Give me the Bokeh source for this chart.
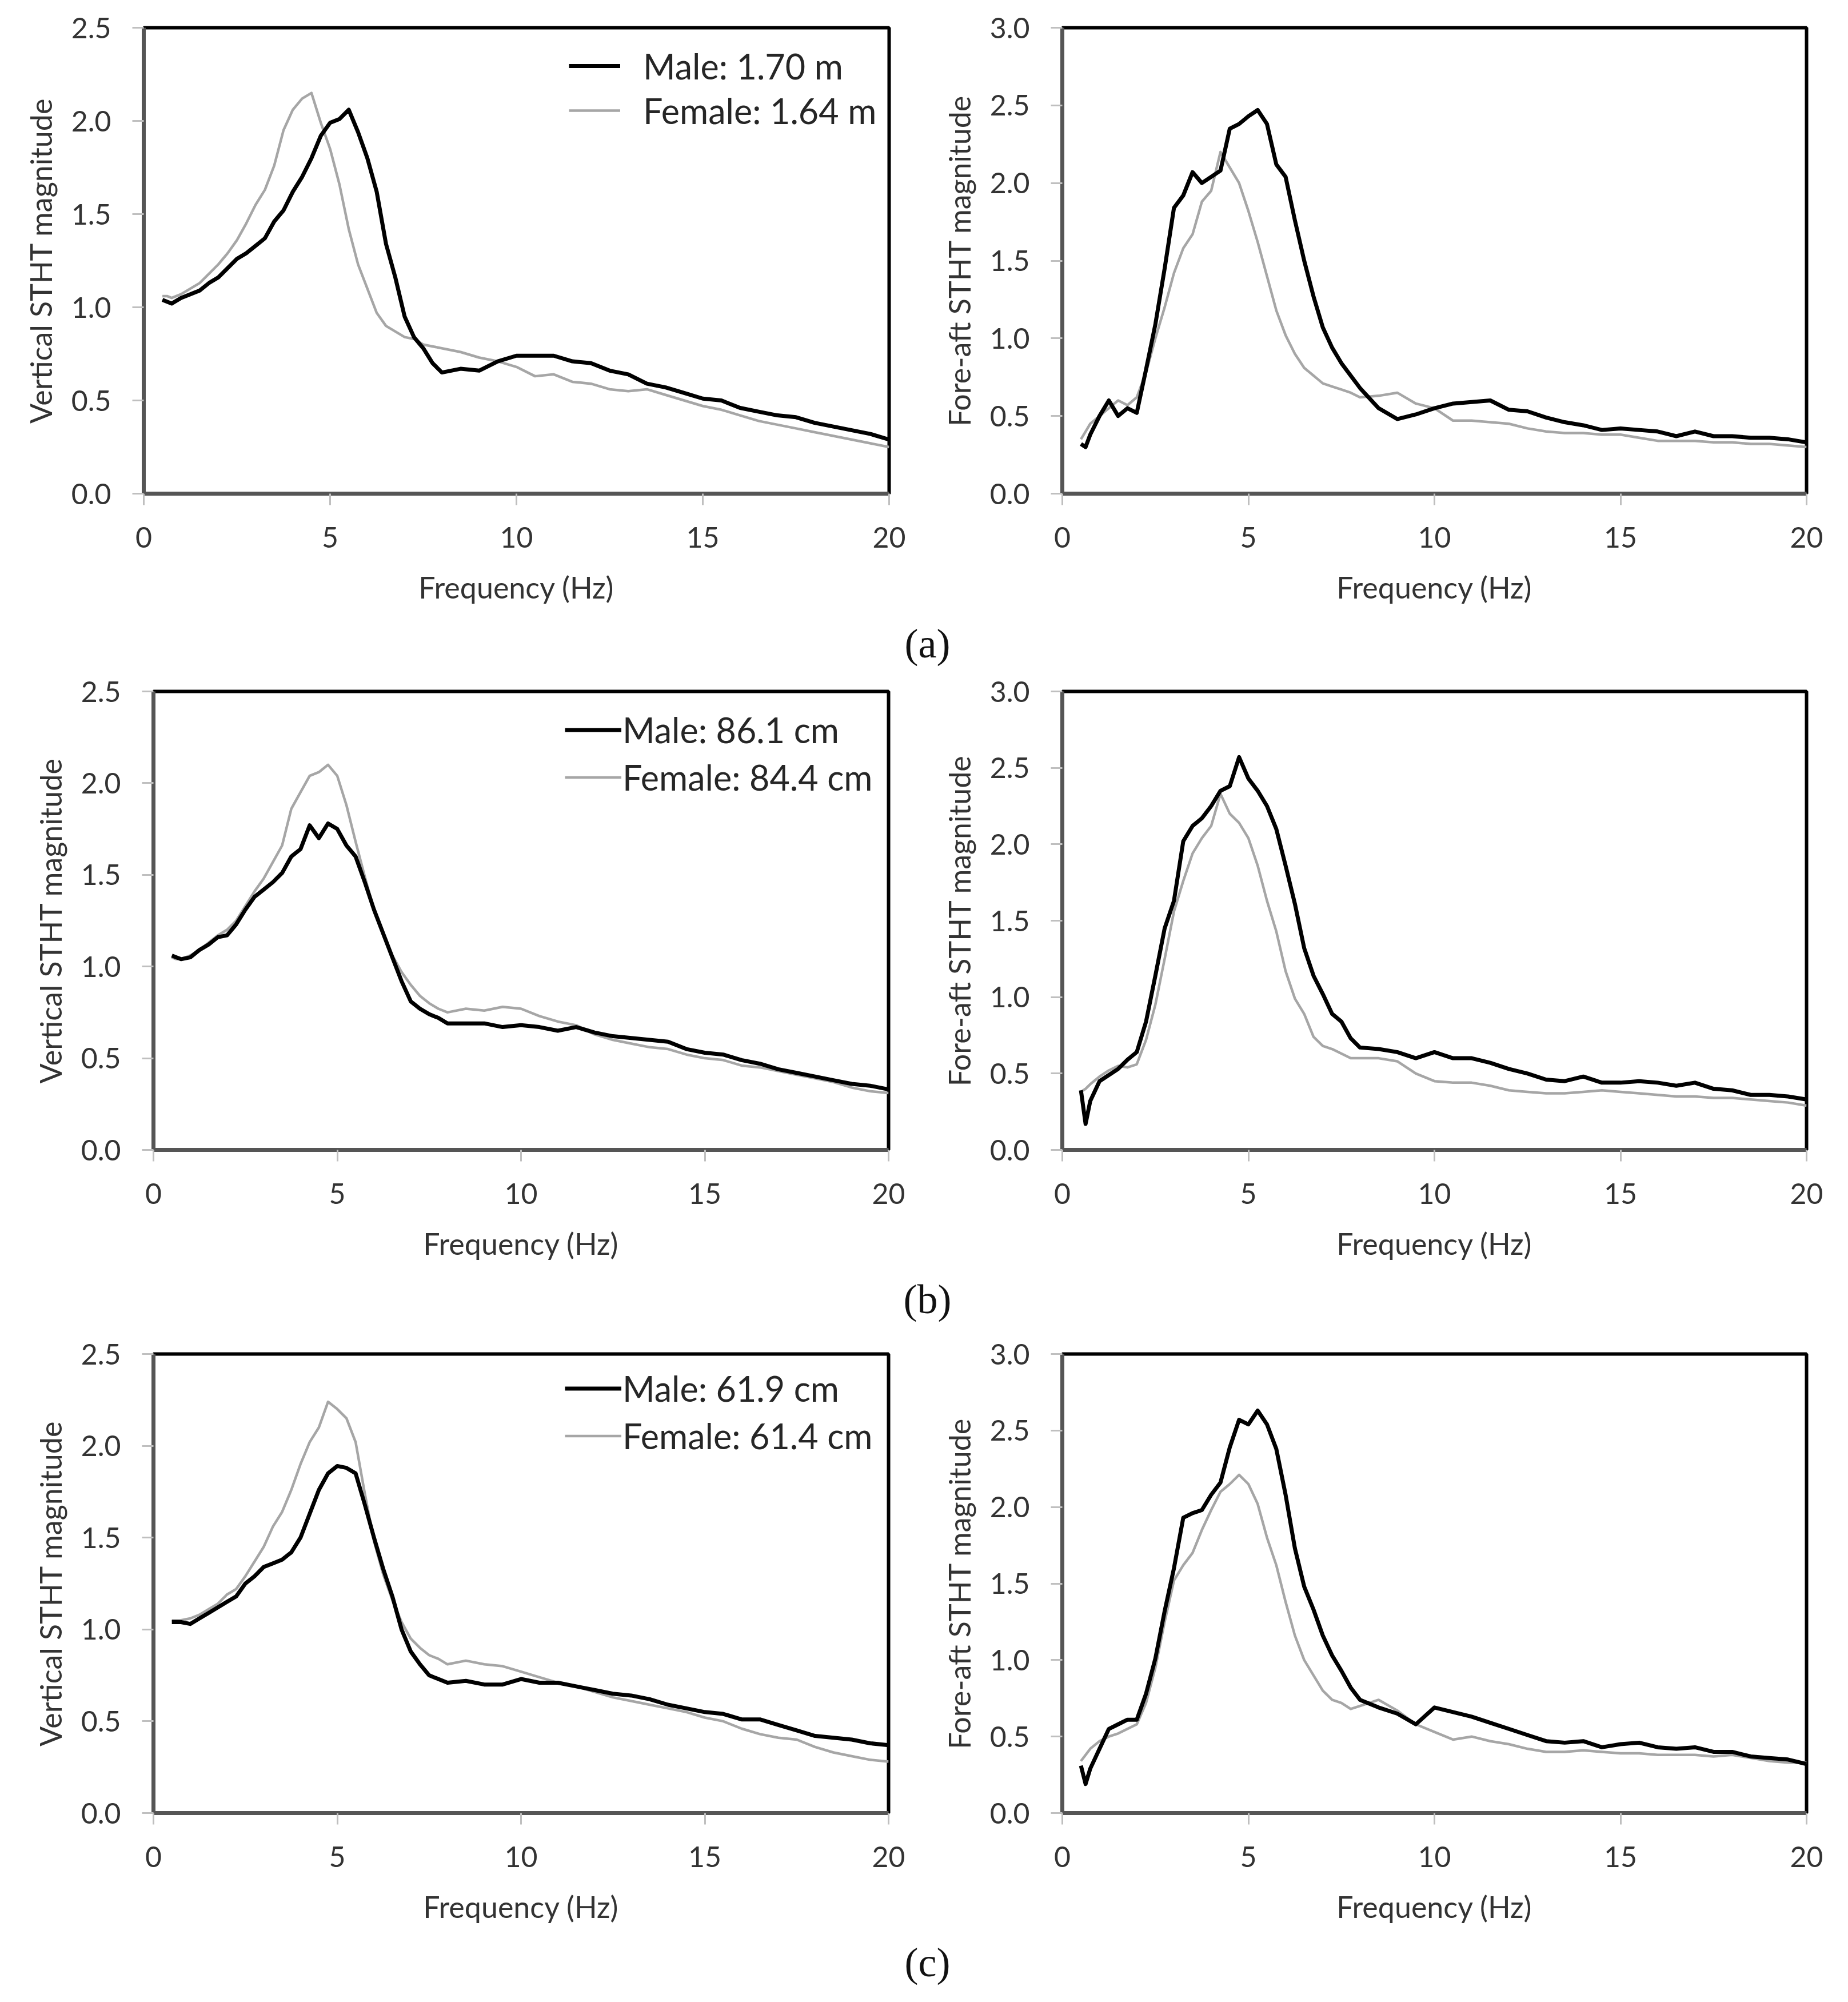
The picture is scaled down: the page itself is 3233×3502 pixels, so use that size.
from bokeh.plotting import figure
from bokeh.layouts import column, row
from bokeh.models import Range1d, FixedTicker, NumeralTickFormatter, Legend, LegendItem, Label
from bokeh.embed import file_html
from bokeh.resources import INLINE

# frequency grid (Hz) shared by every curve
freq = [0.5, 0.625, 0.75,
        1.0, 1.25, 1.5, 1.75, 2.0, 2.25, 2.5, 2.75, 3.0, 3.25, 3.5, 3.75, 4.0, 4.25, 4.5, 4.75,
        5.0, 5.25, 5.5, 5.75, 6.0, 6.25, 6.5, 6.75, 7.0, 7.25, 7.5, 7.75, 8.0,
        8.5, 9.0, 9.5, 10.0, 10.5, 11.0, 11.5, 12.0, 12.5, 13.0, 13.5, 14.0, 14.5, 15.0,
        15.5, 16.0, 16.5, 17.0, 17.5, 18.0, 18.5, 19.0, 19.5, 20.0]

# (a) stature
a_vert_male = [1.04, 1.03, 1.02,
               1.05, 1.07, 1.09, 1.13, 1.16, 1.21, 1.26, 1.29, 1.33, 1.37, 1.46, 1.52, 1.62, 1.70, 1.80, 1.92,
               1.99, 2.01, 2.06, 1.94, 1.80, 1.62, 1.34, 1.16, 0.95, 0.84, 0.78, 0.70, 0.65,
               0.67, 0.66, 0.71, 0.74, 0.74, 0.74, 0.71, 0.70, 0.66, 0.64, 0.59, 0.57, 0.54, 0.51,
               0.50, 0.46, 0.44, 0.42, 0.41, 0.38, 0.36, 0.34, 0.32, 0.29]
a_vert_female = [1.06, 1.06, 1.05,
                 1.07, 1.10, 1.13, 1.18, 1.23, 1.29, 1.36, 1.45, 1.55, 1.63, 1.76, 1.95, 2.06, 2.12, 2.15, 1.99,
                 1.85, 1.66, 1.42, 1.23, 1.10, 0.97, 0.90, 0.87, 0.84, 0.83, 0.80, 0.79, 0.78,
                 0.76, 0.73, 0.71, 0.68, 0.63, 0.64, 0.60, 0.59, 0.56, 0.55, 0.56, 0.53, 0.50, 0.47,
                 0.45, 0.42, 0.39, 0.37, 0.35, 0.33, 0.31, 0.29, 0.27, 0.25]
a_fa_male = [0.32, 0.30, 0.38,
             0.50, 0.60, 0.50, 0.55, 0.52, 0.80, 1.09, 1.45, 1.84, 1.92, 2.07, 2.00, 2.04, 2.08, 2.35, 2.38,
             2.43, 2.47, 2.38, 2.12, 2.04, 1.76, 1.50, 1.27, 1.07, 0.94, 0.84, 0.76, 0.68,
             0.55, 0.48, 0.51, 0.55, 0.58, 0.59, 0.60, 0.54, 0.53, 0.49, 0.46, 0.44, 0.41, 0.42,
             0.41, 0.40, 0.37, 0.40, 0.37, 0.37, 0.36, 0.36, 0.35, 0.33]
a_fa_female = [0.35, 0.40, 0.45,
               0.50, 0.55, 0.60, 0.57, 0.62, 0.78, 1.00, 1.20, 1.42, 1.58, 1.67, 1.88, 1.95, 2.20, 2.10, 2.00,
               1.82, 1.62, 1.40, 1.18, 1.02, 0.90, 0.81, 0.76, 0.71, 0.69, 0.67, 0.65, 0.62,
               0.63, 0.65, 0.58, 0.55, 0.47, 0.47, 0.46, 0.45, 0.42, 0.40, 0.39, 0.39, 0.38, 0.38,
               0.36, 0.34, 0.34, 0.34, 0.33, 0.33, 0.32, 0.32, 0.31, 0.30]

# (b) sitting height
b_vert_male = [1.06, 1.05, 1.04,
               1.05, 1.09, 1.12, 1.16, 1.17, 1.23, 1.31, 1.38, 1.42, 1.46, 1.51, 1.60, 1.64, 1.77, 1.70, 1.78,
               1.75, 1.66, 1.60, 1.46, 1.31, 1.18, 1.05, 0.92, 0.81, 0.77, 0.74, 0.72, 0.69,
               0.69, 0.69, 0.67, 0.68, 0.67, 0.65, 0.67, 0.64, 0.62, 0.61, 0.60, 0.59, 0.55, 0.53,
               0.52, 0.49, 0.47, 0.44, 0.42, 0.40, 0.38, 0.36, 0.35, 0.33]
b_vert_female = [1.05, 1.04, 1.04,
                 1.06, 1.09, 1.13, 1.17, 1.20, 1.25, 1.33, 1.41, 1.48, 1.57, 1.66, 1.86, 1.95, 2.04, 2.06, 2.10,
                 2.04, 1.88, 1.68, 1.49, 1.31, 1.18, 1.06, 0.97, 0.90, 0.84, 0.80, 0.77, 0.75,
                 0.77, 0.76, 0.78, 0.77, 0.73, 0.70, 0.68, 0.63, 0.60, 0.58, 0.56, 0.55, 0.52, 0.50,
                 0.49, 0.46, 0.45, 0.43, 0.41, 0.39, 0.37, 0.34, 0.32, 0.31]
b_fa_male = [0.39, 0.17, 0.32,
             0.45, 0.49, 0.53, 0.59, 0.64, 0.84, 1.14, 1.45, 1.63, 2.02, 2.12, 2.17, 2.25, 2.35, 2.38, 2.57,
             2.43, 2.35, 2.25, 2.10, 1.86, 1.61, 1.32, 1.14, 1.02, 0.89, 0.84, 0.73, 0.67,
             0.66, 0.64, 0.60, 0.64, 0.60, 0.60, 0.57, 0.53, 0.50, 0.46, 0.45, 0.48, 0.44, 0.44,
             0.45, 0.44, 0.42, 0.44, 0.40, 0.39, 0.36, 0.36, 0.35, 0.33]
b_fa_female = [0.38, 0.40, 0.43,
               0.48, 0.52, 0.55, 0.54, 0.56, 0.72, 0.95, 1.25, 1.56, 1.76, 1.94, 2.04, 2.12, 2.33, 2.20, 2.14,
               2.04, 1.86, 1.63, 1.43, 1.17, 0.99, 0.89, 0.74, 0.68, 0.66, 0.63, 0.60, 0.60,
               0.60, 0.58, 0.50, 0.45, 0.44, 0.44, 0.42, 0.39, 0.38, 0.37, 0.37, 0.38, 0.39, 0.38,
               0.37, 0.36, 0.35, 0.35, 0.34, 0.34, 0.33, 0.32, 0.31, 0.29]

# (c) sitting eye height
c_vert_male = [1.04, 1.04, 1.04,
               1.03, 1.06, 1.09, 1.12, 1.15, 1.18, 1.25, 1.29, 1.34, 1.36, 1.38, 1.42, 1.50, 1.63, 1.76, 1.85,
               1.89, 1.88, 1.85, 1.68, 1.50, 1.33, 1.18, 1.00, 0.88, 0.81, 0.75, 0.73, 0.71,
               0.72, 0.70, 0.70, 0.73, 0.71, 0.71, 0.69, 0.67, 0.65, 0.64, 0.62, 0.59, 0.57, 0.55,
               0.54, 0.51, 0.51, 0.48, 0.45, 0.42, 0.41, 0.40, 0.38, 0.37]
c_vert_female = [1.05, 1.05, 1.05,
                 1.06, 1.08, 1.11, 1.14, 1.19, 1.22, 1.29, 1.37, 1.45, 1.56, 1.64, 1.76, 1.90, 2.02, 2.10, 2.24,
                 2.20, 2.15, 2.02, 1.74, 1.48, 1.30, 1.16, 1.04, 0.95, 0.90, 0.86, 0.84, 0.81,
                 0.83, 0.81, 0.80, 0.77, 0.74, 0.71, 0.69, 0.66, 0.63, 0.61, 0.59, 0.57, 0.55, 0.52,
                 0.50, 0.46, 0.43, 0.41, 0.40, 0.36, 0.33, 0.31, 0.29, 0.28]
c_fa_male = [0.31, 0.19, 0.29,
             0.42, 0.55, 0.58, 0.61, 0.61, 0.78, 1.01, 1.32, 1.60, 1.93, 1.96, 1.98, 2.08, 2.16, 2.39, 2.57,
             2.54, 2.63, 2.54, 2.38, 2.08, 1.73, 1.48, 1.33, 1.16, 1.03, 0.93, 0.82, 0.74,
             0.69, 0.65, 0.58, 0.69, 0.66, 0.63, 0.59, 0.55, 0.51, 0.47, 0.46, 0.47, 0.43, 0.45,
             0.46, 0.43, 0.42, 0.43, 0.40, 0.40, 0.37, 0.36, 0.35, 0.32]
c_fa_female = [0.34, 0.38, 0.42,
               0.47, 0.50, 0.52, 0.55, 0.58, 0.72, 0.95, 1.25, 1.52, 1.62, 1.70, 1.85, 1.98, 2.10, 2.15, 2.21,
               2.15, 2.02, 1.80, 1.62, 1.38, 1.16, 1.00, 0.90, 0.80, 0.74, 0.72, 0.68, 0.70,
               0.74, 0.67, 0.58, 0.53, 0.48, 0.50, 0.47, 0.45, 0.42, 0.40, 0.40, 0.41, 0.40, 0.39,
               0.39, 0.38, 0.38, 0.38, 0.37, 0.38, 0.36, 0.34, 0.33, 0.33]

x_ticks = [0, 5, 10, 15, 20]
vert_ticks = [0.0, 0.5, 1.0, 1.5, 2.0, 2.5]
fa_ticks = [0.0, 0.5, 1.0, 1.5, 2.0, 2.5, 3.0]

legend_a = ["Male: 1.70 m", "Female: 1.64 m"]
legend_b = ["Male: 86.1 cm", "Female: 84.4 cm"]
legend_c = ["Male: 61.9 cm", "Female: 61.4 cm"]
captions = ["(a)", "(b)", "(c)"]

FONT = "Lato"
TXT = "#333333"
BLACK = "#000000"
GREY = "#a6a6a6"


def panel(male, female, yticks, ylabel, box, leg=None):
    # box = (left border, frame width, right border, top border, frame height, bottom border)
    left, fw, right, top, fh, bottom = box
    p = figure(width=left + fw + right, height=top + fh + bottom,
               x_range=Range1d(0, 20), y_range=Range1d(0, yticks[-1]),
               toolbar_location=None, output_backend="svg",
               min_border_left=left, min_border_right=right,
               min_border_top=top, min_border_bottom=bottom)
    p.grid.visible = False
    p.outline_line_color = "black"
    p.outline_line_width = 6

    p.xaxis.ticker = FixedTicker(ticks=x_ticks)
    p.yaxis.ticker = FixedTicker(ticks=yticks)
    p.yaxis.formatter = NumeralTickFormatter(format="0.0")
    p.xaxis.axis_label = "Frequency (Hz)"
    p.yaxis.axis_label = ylabel
    for ax in (p.xaxis, p.yaxis):
        ax.axis_line_color = "#555555"
        ax.axis_line_width = 7
        ax.major_tick_line_color = "#bfbfbf"
        ax.major_tick_line_width = 3
        ax.major_tick_out = 20
        ax.major_tick_in = 0
        ax.minor_tick_line_color = None
        ax.major_label_text_font = FONT
        ax.major_label_text_font_size = "50px"
        ax.major_label_text_color = TXT
        ax.axis_label_text_font = FONT
        ax.axis_label_text_font_size = "52px"
        ax.axis_label_text_font_style = "normal"
        ax.axis_label_text_color = TXT
    p.xaxis.major_label_standoff = 38
    p.xaxis.axis_label_standoff = 35
    p.yaxis.major_label_standoff = 37
    p.yaxis.axis_label_standoff = 20

    rf = p.line(freq, female, line_color=GREY, line_width=4.5, line_join="round")
    rm = p.line(freq, male, line_color=BLACK, line_width=7, line_join="round")

    if leg:
        labels, gx, gw, standoff, first, step = leg
        lg = Legend(items=[LegendItem(label=labels[0], renderers=[rm]),
                           LegendItem(label=labels[1], renderers=[rf])],
                    location=(gx, fh - (first - step / 2) - 2 * step),
                    border_line_color=None, background_fill_alpha=0,
                    padding=0, margin=0, spacing=0,
                    glyph_width=gw, glyph_height=step, label_height=step,
                    label_standoff=standoff,
                    label_text_font=FONT, label_text_font_size="61px",
                    label_text_color="#262626")
        p.add_layout(lg)
    return p


def caption(text):
    c = figure(width=3216, height=90, x_range=Range1d(0, 3216), y_range=Range1d(0, 90),
               toolbar_location=None, output_backend="svg",
               x_axis_type=None, y_axis_type=None, min_border=0)
    c.grid.visible = False
    c.outline_line_color = None
    c.add_layout(Label(x=1622, y=45, text=text, text_align="center",
                       text_baseline="middle", text_font="Liberation Serif",
                       text_font_size="72px", text_color="#111111"))
    return c


pa1 = panel(a_vert_male, a_vert_female, vert_ticks, "Vertical STHT magnitude",
            (251, 1304, 53, 45, 818, 217), (legend_a, 744, 90, 40, 70, 78))
pa2 = panel(a_fa_male, a_fa_female, fa_ticks, "Fore-aft STHT magnitude",
            (250, 1302, 48, 48, 815, 217))
pb1 = panel(b_vert_male, b_vert_female, vert_ticks, "Vertical STHT magnitude",
            (268, 1286, 54, 39, 802, 216), (legend_b, 720, 99, 2, 67, 83))
pb2 = panel(b_fa_male, b_fa_female, fa_ticks, "Fore-aft STHT magnitude",
            (250, 1302, 48, 31, 810, 216))
pc1 = panel(c_vert_male, c_vert_female, vert_ticks, "Vertical STHT magnitude",
            (268, 1286, 54, 51, 803, 216), (legend_c, 720, 99, 2, 60, 83))
pc2 = panel(c_fa_male, c_fa_female, fa_ticks, "Fore-aft STHT magnitude",
            (250, 1302, 48, 37, 817, 216))

layout = column(row(pa1, pa2), caption(captions[0]),
                row(pb1, pb2), caption(captions[1]),
                row(pc1, pc2), caption(captions[2]))

open("out.html", "w").write(file_html(layout, INLINE))
